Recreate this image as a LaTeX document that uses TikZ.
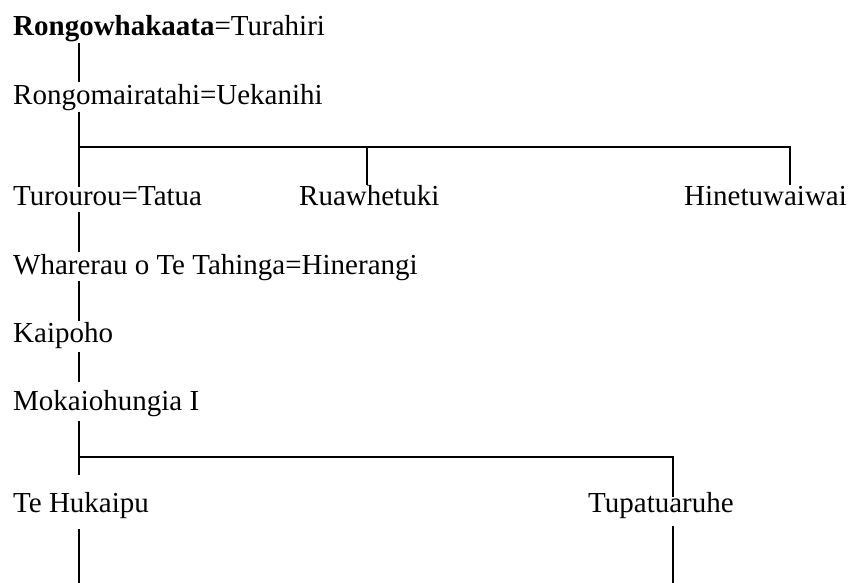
\documentclass[tikz,border=0pt]{standalone}
\usepackage{fontspec}
\setmainfont{Liberation Serif}
\begin{document}
\begin{tikzpicture}[x=1pt,y=-1pt,
  person/.style={anchor=base west,inner sep=0pt,font=\fontsize{29}{34}\selectfont},
  link/.style={line width=1.5pt,line cap=butt}]
\useasboundingbox (0,0) rectangle (848,583);
% people
\node[person] (r1) at (13,36) {\textbf{Rongowhakaata}=Turahiri};
\node[person] (r2) at (13,105) {Rongomairatahi=Uekanihi};
\node[person] (c1) at (13,205) {Turourou=Tatua};
\node[person] (c2) at (299,205) {Ruawhetuki};
\node[person] (c3) at (684,205) {Hinetuwaiwai};
\node[person] (r4) at (13,274) {Wharerau o Te Tahinga=Hinerangi};
\node[person] (r5) at (13,342) {Kaipoho};
\node[person] (r6) at (13,410) {Mokaiohungia I};
\node[person] (g1) at (13,512) {Te Hukaipu};
\node[person] (g2) at (588,512) {Tupatuaruhe};
% junctions and free ends
\coordinate (s1) at (79,147);
\coordinate (s2) at (79,457);
\coordinate (endL) at (79,583);
\coordinate (endR) at (673,583);
% connectors
\draw[link] ([xshift=66pt,yshift=-7pt]r1.base west) -- ([xshift=66pt,yshift=23pt]r2.base west);
\draw[link] ([xshift=66pt,yshift=-7pt]r2.base west) -- ([xshift=66pt,yshift=18pt]c1.base west);
\draw[link] (s1) -| ([xshift=106pt,yshift=20pt]c3.base west);
\draw[link] ([xshift=68pt,yshift=20pt]c2.base west) -- ([xshift=68pt]c2.base west |- s1);
\draw[link] ([xshift=66pt,yshift=-7pt]c1.base west) -- ([xshift=66pt,yshift=22pt]r4.base west);
\draw[link] ([xshift=66pt,yshift=-7pt]r4.base west) -- ([xshift=66pt,yshift=21pt]r5.base west);
\draw[link] ([xshift=66pt,yshift=-10pt]r5.base west) -- ([xshift=66pt,yshift=28pt]r6.base west);
\draw[link] ([xshift=66pt,yshift=-11pt]r6.base west) -- ([xshift=66pt,yshift=37pt]g1.base west);
\draw[link] (s2) -| ([xshift=85pt,yshift=15pt]g2.base west);
\draw[link] ([xshift=66pt,yshift=-17pt]g1.base west) -- (endL);
\draw[link] ([xshift=85pt,yshift=-14pt]g2.base west) -- (endR);
\end{tikzpicture}
\end{document}
